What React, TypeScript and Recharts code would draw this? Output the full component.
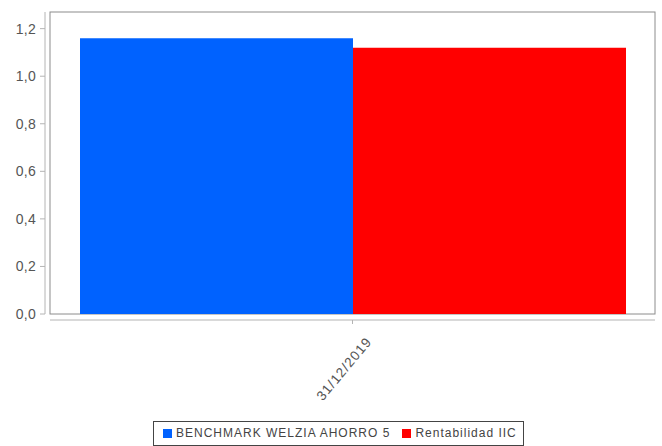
import React from 'react';
import { BarChart, Bar, XAxis, YAxis, Legend, usePlotArea } from 'recharts';

const categories = ['31/12/2019'];
const benchmarkValues = [1.16];
const rentabilidadValues = [1.12];
const yTicks = [0, 0.2, 0.4, 0.6, 0.8, 1.0, 1.2];
const seriesNames = ['BENCHMARK WELZIA AHORRO 5', 'Rentabilidad IIC'];
const seriesColors = ['#0062ff', '#ff0000'];

const data = categories.map((c, i) => ({
  date: c,
  bench: benchmarkValues[i],
  rent: rentabilidadValues[i],
}));

const FONT = 'Arial, "Liberation Sans", sans-serif';

function Frame() {
  const area = usePlotArea();
  if (!area) return null;
  const { x, y, width, height } = area;
  return (
    <g>
      <line x1={x - 5} x2={x - 5} y1={y} y2={y + height} stroke="#b4b4b4" />
      <line x1={x} x2={x + width} y1={y + height + 6} y2={y + height + 6} stroke="#b4b4b4" />
      <rect x={x} y={y} width={width} height={height} fill="none" stroke="#8c8c8c" />
    </g>
  );
}

const YTick = (props: any) => {
  const { x, y, payload } = props;
  const label = Number(payload.value).toFixed(1).replace('.', ',');
  return (
    <g>
      <line x1={x - 10} x2={x - 5} y1={y} y2={y} stroke="#b4b4b4" />
      <text x={x - 14} y={y} dy={5} textAnchor="end" fill="#555" fontSize={14} fontFamily={FONT} letterSpacing={0.3}>
        {label}
      </text>
    </g>
  );
};

const XTick = (props: any) => {
  const { x, y, payload } = props;
  const tx = x + 20;
  const ty = y + 28;
  return (
    <g>
      <line x1={x} x2={x} y1={y + 6} y2={y + 10} stroke="#b4b4b4" />
      <text
        x={tx}
        y={ty}
        textAnchor="end"
        fill="#555"
        fontSize={13.5}
        fontFamily={FONT}
        letterSpacing={1}
        transform={`rotate(-50, ${tx}, ${ty})`}
      >
        {payload.value}
      </text>
    </g>
  );
};

const LegendContent = () => (
  <div
    style={{
      display: 'inline-flex',
      alignItems: 'center',
      border: '1px solid #444',
      padding: '4px 6px 5px 9px',
      fontFamily: FONT,
      fontSize: 12,
      letterSpacing: 1,
      color: '#444',
      background: '#fff',
      whiteSpace: 'nowrap',
    }}
  >
    {seriesNames.map((n, i) => (
      <span key={n} style={{ display: 'inline-flex', alignItems: 'center', marginRight: i === 0 ? 12 : 0 }}>
        <span style={{ display: 'inline-block', width: 9, height: 9, background: seriesColors[i], marginRight: 4 }} />
        <span>{n}</span>
      </span>
    ))}
  </div>
);

export default function App() {
  return (
    <div style={{ position: 'absolute', left: 0, top: 0, width: 662, height: 446, background: '#fff' }}>
      <BarChart
        width={662}
        height={446}
        data={data}
        margin={{ top: 12, right: 7, bottom: 32, left: 0 }}
        barCategoryGap={30}
        barGap={0}
      >
        <XAxis
          dataKey="date"
          height={100}
          axisLine={false}
          tickLine={false}
          tickSize={0}
          tickMargin={0}
          tick={<XTick />}
          interval={0}
        />
        <YAxis
          width={50}
          domain={[0, 1.27]}
          ticks={yTicks}
          axisLine={false}
          tickLine={false}
          tickSize={0}
          tickMargin={0}
          tick={<YTick />}
          allowDataOverflow
        />
        <Bar dataKey="bench" name={seriesNames[0]} fill={seriesColors[0]} isAnimationActive={false} />
        <Bar dataKey="rent" name={seriesNames[1]} fill={seriesColors[1]} isAnimationActive={false} />
        <Legend
          verticalAlign="middle"
          align="center"
          layout="horizontal"
          content={<LegendContent />}
          wrapperStyle={{ top: 421, left: 153, width: 'auto', height: 'auto' }}
        />
        <Frame />
      </BarChart>
    </div>
  );
}
